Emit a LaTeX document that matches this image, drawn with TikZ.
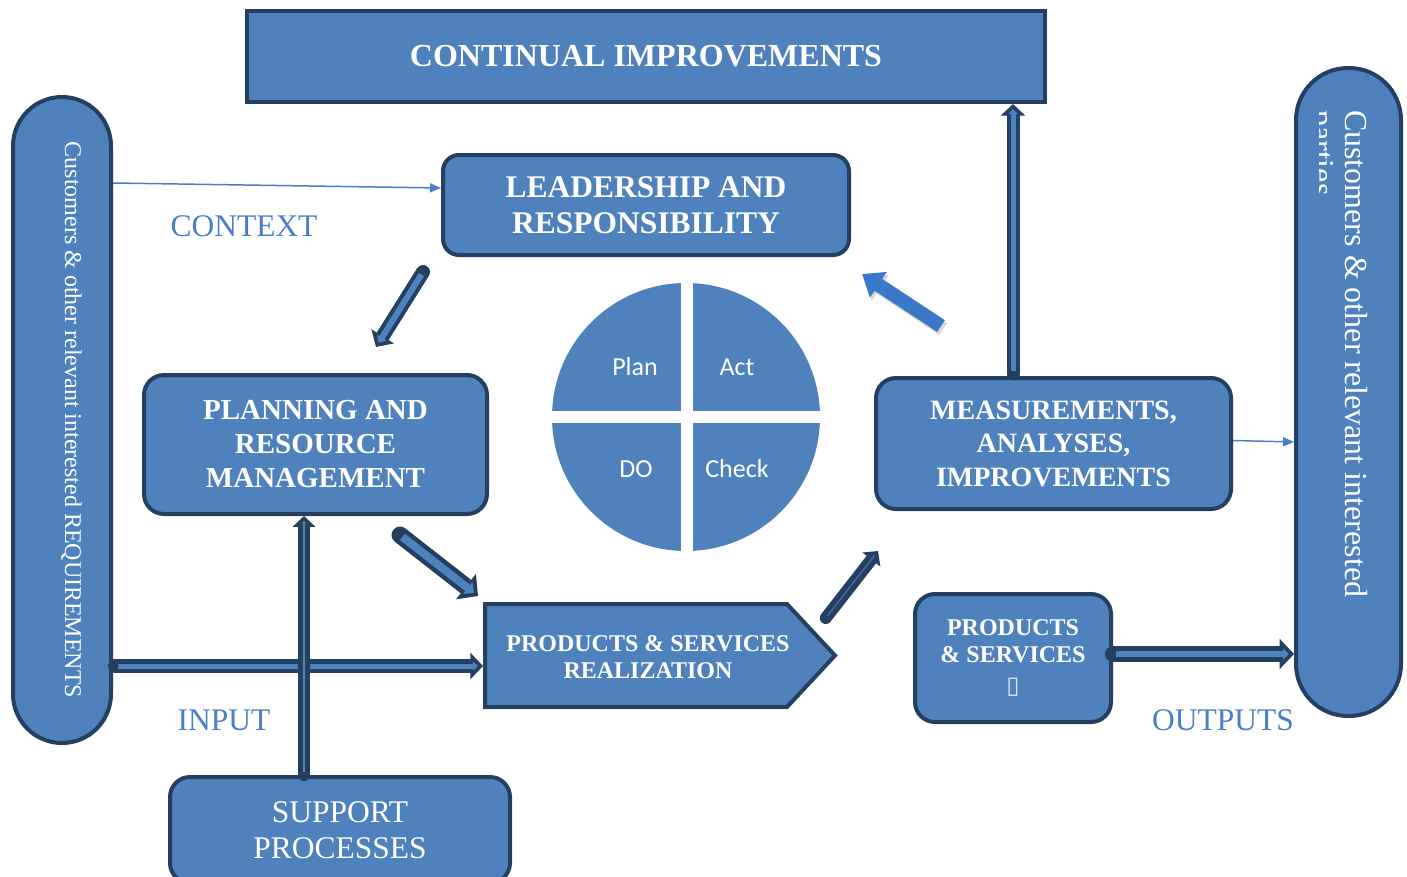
\documentclass[tikz,border=0pt]{standalone}
\usepackage{fontspec}
\setmainfont{Liberation Serif}
\newfontfamily\calfont{Carlito}
\newfontfamily\symfont{DejaVu Sans}
\usetikzlibrary{arrows.meta,calc,shapes.symbols}
\definecolor{qblue}{HTML}{4F81BD}
\definecolor{qdark}{HTML}{243F60}
\definecolor{qlabel}{HTML}{4A7EC8}
\definecolor{qarrow}{HTML}{3A78C8}
\newcommand{\fsz}[2]{\fontsize{#1}{#2}\selectfont}
\newcommand{\fatarrow}[4]{% outer width, inner width, from, to
  \draw[fatout=#1] #3 -- #4;
  \draw[fatin=#2] #3 -- #4;}
\begin{document}
\begin{tikzpicture}[x=1pt, y=-1pt,
  box/.style={draw=qdark, fill=qblue, line width=4pt, text=white, align=center},
  fatout/.style={draw=qdark, line width=#1, line cap=round, -{Triangle[length=0pt 0.9, width=0pt 1.85]}},
  fatin/.style={draw=qblue, line width=#1, shorten <=3, shorten >=5, -{Triangle[length=0pt 1.0, width=0pt 1.8]}},
  lbl/.style={text=qlabel, font=\fsz{31.5}{36}}]
  \useasboundingbox (0,0) rectangle (1407,876);
  \clip (0,0) rectangle (1407,876);

  % boxes
  \node[box, minimum width=798, minimum height=91, font=\bfseries\fsz{32}{36}] (cont) at (646,56.5) {CONTINUAL IMPROVEMENTS};
  \node[box, rounded corners=16, minimum width=406, minimum height=100, font=\bfseries\fsz{31.5}{36}] (lead) at (646,205) {LEADERSHIP AND\\RESPONSIBILITY};
  \node[box, rounded corners=20, minimum width=343, minimum height=139, font=\bfseries\fsz{29}{34}] (plan) at (315.5,444.5) {PLANNING AND\\RESOURCE\\MANAGEMENT};
  \node[box, rounded corners=20, minimum width=355, minimum height=131, font=\bfseries\fsz{28}{33.5}] (meas) at (1053.5,443.5) {MEASUREMENTS,\\ANALYSES,\\IMPROVEMENTS};
  \node[box, signal, signal to=east, signal pointer angle=94, minimum width=350, minimum height=103, font=\bfseries\fsz{24}{27}] (real) at (636,655.5) {\kern12pt\raisebox{-4pt}[\height][\depth]{\begin{tabular}{@{}c@{}}PRODUCTS \& SERVICES\\REALIZATION\end{tabular}}\kern-12pt};
  \node[box, rounded corners=20, minimum width=196, minimum height=128, font=\bfseries\fsz{24}{27}] (prod) at (1013,658) {PRODUCTS\\\& SERVICES\\[4pt]{\symfont\mdseries\color{white!80!qblue}▯}};
  \node[box, rounded corners=20, minimum width=340, minimum height=106, anchor=north, font=\fsz{31.5}{36}] (supp) at (340,775) {SUPPORT\\PROCESSES};

  % side pills
  \node[box, rounded corners=49, minimum width=98, minimum height=646] (req) at (62,420) {};
  \node[rotate=-90, anchor=base, text=white, font=\fsz{24}{28}] (reqtxt) at (65,420) {Customers \& other relevant interested REQUIREMENTS};
  \node[box, rounded corners=52, minimum width=105, minimum height=648] (cust) at (1348.5,392) {};
  \begin{scope}
    \clip (1319,60) rectangle (1410,730);
    \node[rotate=-90, anchor=north west, inner sep=0, align=left, text=white, font=\fsz{32}{33}] (custtxt) at (1368,110) {Customers \& other relevant interested\\parties};
  \end{scope}

  % PDCA wheel
  \fill[qblue] (686,417) circle (134);
  \draw[white, line width=12] (550,416.5) -- (822,416.5);
  \draw[white, line width=12] (686.5,281) -- (686.5,553);
  \node[text=white, font=\calfont\fsz{26}{30}] (plantxt) at (635,367) {Plan};
  \node[text=white, font=\calfont\fsz{26}{30}] (acttxt) at (737,367) {Act};
  \node[text=white, font=\calfont\fsz{26}{30}] (dotxt) at (636,469) {DO};
  \node[text=white, font=\calfont\fsz{26}{30}] (checktxt) at (737,469) {Check};

  % labels
  \node[lbl] (ctx) at (244,226) {CONTEXT};
  \node[lbl] (inp) at (224,720) {INPUT};
  \node[lbl] (outp) at (1223,720) {OUTPUTS};

  % thin arrows
  \draw[qlabel, line width=1.5, -{Triangle[length=11, width=9]}] ($(req.north east)+(0,88)$) -- ($(lead.west)+(0,-17)$);
  \draw[qlabel, line width=1.5, -{Triangle[length=11, width=9]}] ($(meas.east)+(0,-3)$) -- ($(cust.west)+(0,50)$);

  % block arrows
  \fatarrow{14}{6}{($(lead.south west)+(-18,15)$)}{($(plan.north)+(60.5,-26)$)}
  \fatarrow{17}{8}{($(plan.south)+(84.5,19)$)}{($(real.west)+(-5,-59.5)$)}
  \draw[fatout=12] ($(real.east)+(-12,-37.5)$) -- ($(meas.south west)+(4,40)$);
  \draw[fatin=1.5, draw=qblue!70!qdark] ($(real.east)+(-12,-37.5)$) -- ($(meas.south west)+(4,40)$);
  \coordinate (up0) at ($(meas.north)+(-40.5,-2)$);
  \fatarrow{13}{5}{(up0)}{(up0 |- cont.south)}
  \fatarrow{14}{5}{($(req.east)+(2,246)$)}{($(real.west)+(0,10.5)$)}
  \coordinate (sup0) at ($(supp.north)+(-36,0)$);
  \fatarrow{12}{2.5}{(sup0)}{(sup0 |- plan.south)}
  \coordinate (out0) at ($(prod.east)+(0,-4)$);
  \fatarrow{16}{6}{(out0)}{(out0 -| cust.west)}

  % blue arrow back to leadership
  \draw[black!30, opacity=0.5, line width=14, -{Triangle[length=0pt 1.4, width=0pt 2.1]}] ($(meas.north west)+(69,-47)$) -- ($(lead.south east)+(13,20)$); % shadow
  \draw[qarrow, line width=14, -{Triangle[length=0pt 1.4, width=0pt 2.1]}] ($(meas.north west)+(67,-50)$) -- ($(lead.south east)+(11,17)$);
\end{tikzpicture}
\end{document}
